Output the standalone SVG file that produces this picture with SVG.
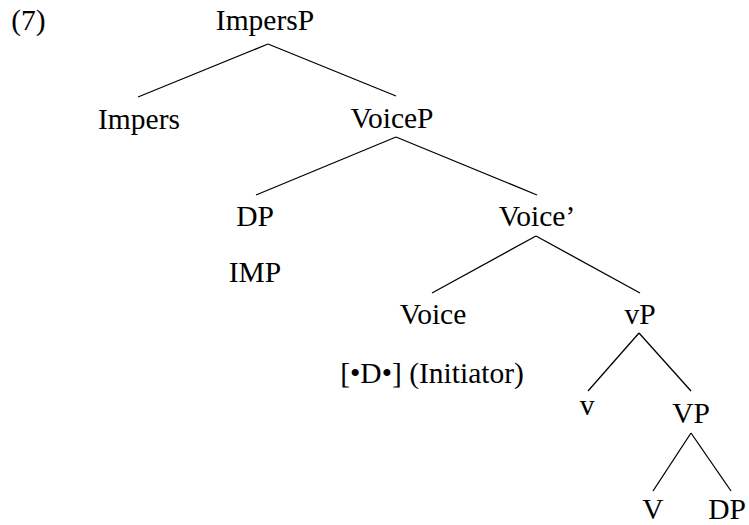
<svg xmlns="http://www.w3.org/2000/svg" width="749" height="525" viewBox="0 0 749 525">
<style>
line{stroke:#000;stroke-width:1.3}
</style>
<rect width="749" height="525" fill="#fff"/>
<g font-family="Liberation Serif, serif" font-size="29.5" fill="#000" text-anchor="middle">
<g id="label"><text x="28.5" y="30">(7)</text></g>
<g id="ImpersP"><text x="265" y="30">ImpersP</text></g>
<g id="Impers"><text x="139" y="129">Impers</text></g>
<g id="VoiceP"><text x="392" y="128">VoiceP</text></g>
<g id="DP1"><text x="255" y="226">DP</text><text x="255" y="282">IMP</text></g>
<g id="VoiceBar"><text x="537" y="226">Voice’</text></g>
<g id="Voice"><text x="433" y="324">Voice</text><text x="432" y="383">[•D•] (Initiator)</text></g>
<g id="vP"><text x="640" y="324">vP</text></g>
<g id="v"><text x="587" y="415">v</text></g>
<g id="VP"><text x="691" y="423">VP</text></g>
<g id="V"><text x="653" y="519">V</text></g>
<g id="DP2"><text x="727" y="519">DP</text></g>
</g>
<g id="connectors">
<line x1="268" y1="44" x2="138" y2="97"/>
<line x1="268" y1="44" x2="396" y2="96"/>
<line x1="396" y1="137" x2="256" y2="195"/>
<line x1="396" y1="137" x2="537" y2="195"/>
<line x1="536" y1="236" x2="432" y2="293"/>
<line x1="536" y1="236" x2="640" y2="293"/>
<line x1="639" y1="333" x2="588" y2="391"/>
<line x1="639" y1="333" x2="691" y2="391"/>
<line x1="691" y1="433" x2="653" y2="491"/>
<line x1="691" y1="433" x2="731" y2="491"/>
</g>
</svg>
